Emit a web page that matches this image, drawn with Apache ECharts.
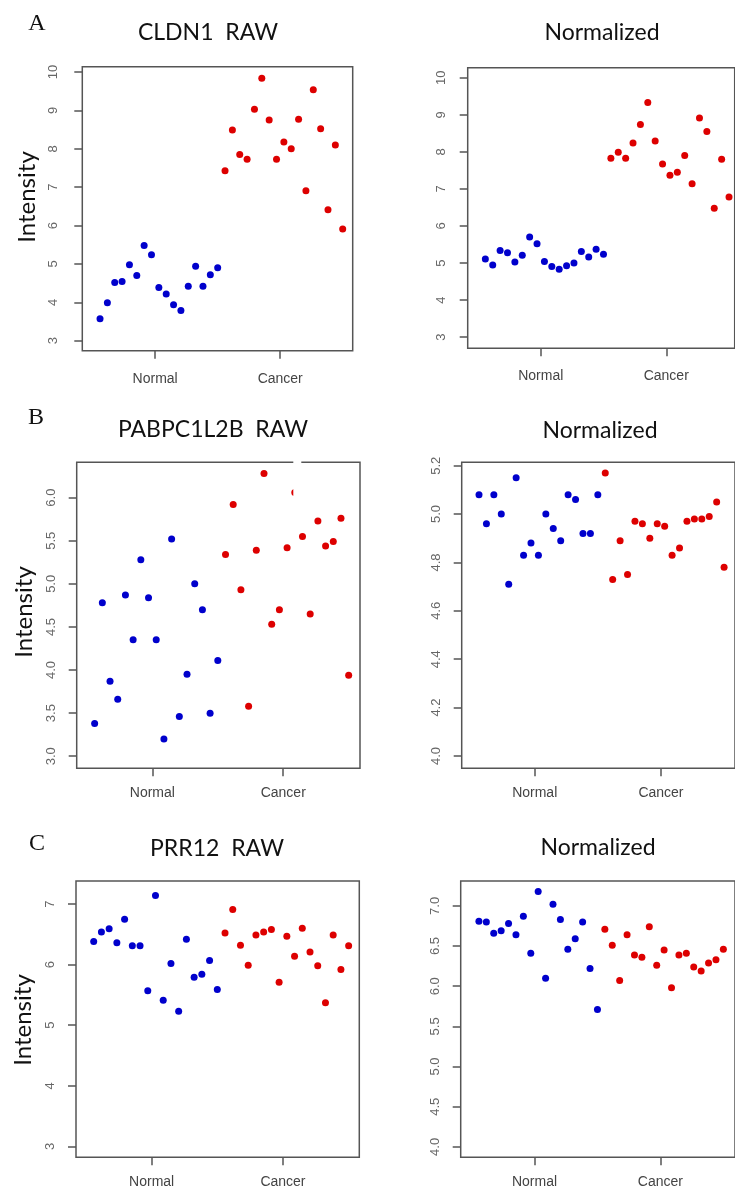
<!DOCTYPE html>
<html>
<head>
<meta charset="utf-8">
<script src="https://cdn.jsdelivr.net/npm/echarts@6/dist/echarts.min.js"></script>
<style>
html,body{margin:0;padding:0;background:#fff;}
#chart{width:735px;height:1192px;}
</style>
</head>
<body>
<div id="chart"></div>
<script>
// ---------- DATA ----------
const groupLabels = ['Normal', 'Cancer'];
const panelLetters = ['A', 'B', 'C'];
const panelTitles = ['CLDN1  RAW', 'Normalized', 'PABPC1L2B  RAW', 'Normalized', 'PRR12  RAW', 'Normalized'];
const yAxisName = 'Intensity';

const yTicksCldn1Raw = [3, 4, 5, 6, 7, 8, 9, 10];
const yTicksCldn1Norm = [3, 4, 5, 6, 7, 8, 9, 10];
const yTicksPabRaw = [3.0, 3.5, 4.0, 4.5, 5.0, 5.5, 6.0];
const yTicksPabNorm = [4.0, 4.2, 4.4, 4.6, 4.8, 5.0, 5.2];
const yTicksPrrRaw = [3, 4, 5, 6, 7];
const yTicksPrrNorm = [4.0, 4.5, 5.0, 5.5, 6.0, 6.5, 7.0];

const cldn1RawNormal = [3.57, 3.99, 4.52, 4.54, 4.98, 4.70, 5.48, 5.24, 4.39, 4.22, 3.94, 3.79, 4.42, 4.94, 4.42, 4.72, 4.90];
const cldn1RawCancer = [7.43, 8.49, 7.85, 7.73, 9.03, 9.84, 8.75, 7.73, 8.18, 8.00, 8.77, 6.91, 9.54, 8.52, 6.41, 8.10, 5.91];
const cldn1NormNormal = [5.11, 4.95, 5.34, 5.28, 5.03, 5.21, 5.70, 5.52, 5.04, 4.91, 4.83, 4.93, 5.00, 5.31, 5.16, 5.37, 5.24];
const cldn1NormCancer = [7.83, 7.99, 7.83, 8.24, 8.74, 9.33, 8.29, 7.67, 7.37, 7.45, 7.90, 7.14, 8.91, 8.55, 6.48, 7.80, 6.78];

const pabRawNormal = [3.38, 4.78, 3.87, 3.66, 4.87, 4.35, 5.28, 4.84, 4.35, 3.20, 5.52, 3.46, 3.95, 5.00, 4.70, 3.50, 4.11];
const pabRawCancer = [5.34, 5.92, 4.93, 3.58, 5.39, 6.28, 4.53, 4.70, 5.42, 6.06, 5.55, 4.65, 5.73, 5.44, 5.49, 5.76, 3.94];
const pabNormNormal = [5.08, 4.96, 5.08, 5.00, 4.71, 5.15, 4.83, 4.88, 4.83, 5.00, 4.94, 4.89, 5.08, 5.06, 4.92, 4.92, 5.08];
const pabNormCancer = [5.17, 4.73, 4.89, 4.75, 4.97, 4.96, 4.90, 4.96, 4.95, 4.83, 4.86, 4.97, 4.98, 4.98, 4.99, 5.05, 4.78];

const prrRawNormal = [6.38, 6.54, 6.59, 6.36, 6.75, 6.31, 6.31, 5.57, 7.14, 5.41, 6.02, 5.23, 6.42, 5.79, 5.84, 6.07, 5.59];
const prrRawCancer = [6.52, 6.91, 6.32, 5.99, 6.49, 6.54, 6.58, 5.71, 6.47, 6.14, 6.60, 6.21, 5.98, 5.37, 6.49, 5.92, 6.31];
const prrNormNormal = [6.81, 6.80, 6.66, 6.69, 6.78, 6.64, 6.87, 6.41, 7.18, 6.10, 7.02, 6.83, 6.46, 6.59, 6.80, 6.22, 5.71];
const prrNormCancer = [6.71, 6.51, 6.07, 6.64, 6.39, 6.36, 6.74, 6.26, 6.45, 5.98, 6.39, 6.41, 6.24, 6.19, 6.29, 6.33, 6.46];

// ---------- LAYOUT ----------
const panels = [
  {normal: cldn1RawNormal, cancer: cldn1RawCancer, ticks: yTicksCldn1Raw, dec: 0,
   grid: {left: 82.3, top: 66.7, width: 270.4, height: 284}, x: [-1.41, 35.36], y: [2.74, 10.14], lm: 22,
   title: [208, 33]},
  {normal: cldn1NormNormal, cancer: cldn1NormCancer, ticks: yTicksCldn1Norm, dec: 0,
   grid: {left: 467.7, top: 67.7, width: 267, height: 280.6}, x: [-1.39, 34.77], y: [2.70, 10.27], lm: 20,
   title: [602, 33]},
  {normal: pabRawNormal, cancer: pabRawCancer, ticks: yTicksPabRaw, dec: 1,
   grid: {left: 76.7, top: 462.3, width: 283.3, height: 306}, x: [-1.33, 35.47], y: [2.86, 6.41], lm: 19,
   title: [213, 430]},
  {normal: pabNormNormal, cancer: pabNormCancer, ticks: yTicksPabNorm, dec: 1,
   grid: {left: 461.7, top: 462.3, width: 283.3, height: 306}, x: [-1.33, 35.47], y: [3.949, 5.214], lm: 19,
   title: [600, 431]},
  {normal: prrRawNormal, cancer: prrRawCancer, ticks: yTicksPrrRaw, dec: 0,
   grid: {left: 76, top: 881, width: 283.3, height: 276.3}, x: [-1.29, 35.38], y: [2.82, 7.38], lm: 19,
   title: [217, 849]},
  {normal: prrNormNormal, cancer: prrNormCancer, ticks: yTicksPrrNorm, dec: 1,
   grid: {left: 460.7, top: 881, width: 285, height: 276.3}, x: [-1.46, 35.57], y: [3.87, 7.31], lm: 19,
   title: [598, 848]}
];
const groupTickPos = [8.5, 25.5];
const letterPos = [[37, 24], [36, 418], [37, 844]];
const intensityPos = [[27, 197], [24, 612], [23, 1020]];

const BLUE = '#0000CC', RED = '#DD0000', AXIS = '#555';

const grids = [], xAxes = [], yAxes = [], series = [], graphics = [];
panels.forEach((p, i) => {
  grids.push(Object.assign({show: true, borderColor: AXIS, borderWidth: 1.5, backgroundColor: 'transparent'}, p.grid));
  xAxes.push({
    type: 'value', gridIndex: i, min: p.x[0], max: p.x[1],
    axisLine: {show: false, onZero: false}, splitLine: {show: false},
    axisTick: {show: true, inside: false, customValues: groupTickPos, length: 8, lineStyle: {color: AXIS, width: 1.5}},
    axisLabel: {customValues: groupTickPos, margin: i < 2 ? 21 : 18, color: '#444', fontSize: 14,
      fontFamily: 'Liberation Sans, Arial, sans-serif',
      formatter: v => (v < 17 ? groupLabels[0] : groupLabels[1])}
  });
  yAxes.push({
    type: 'value', gridIndex: i, min: p.y[0], max: p.y[1],
    axisLine: {show: false, onZero: false}, splitLine: {show: false},
    axisTick: {show: true, inside: false, customValues: p.ticks, length: 8, lineStyle: {color: AXIS, width: 1.5}},
    axisLabel: {customValues: p.ticks, rotate: 90, margin: p.lm, color: '#666', fontSize: 13,
      fontFamily: 'Liberation Sans, Arial, sans-serif',
      formatter: v => Number(v).toFixed(p.dec)}
  });
  series.push({
    type: 'scatter', xAxisIndex: i, yAxisIndex: i, symbolSize: 7, silent: true,
    itemStyle: {color: BLUE, opacity: 1},
    data: p.normal.map((v, k) => [k + 1, v])
  });
  series.push({
    type: 'scatter', xAxisIndex: i, yAxisIndex: i, symbolSize: 7, silent: true,
    itemStyle: {color: RED, opacity: 1},
    data: p.cancer.map((v, k) => [k + 1 + p.normal.length, v])
  });
  graphics.push({
    type: 'text', x: p.title[0], y: p.title[1], z: 10,
    style: {text: panelTitles[i], fontSize: 23, fontFamily: 'Lato, "Open Sans", sans-serif',
      fill: '#111', textAlign: 'center', textVerticalAlign: 'middle'}
  });
});
panelLetters.forEach((l, k) => {
  graphics.push({
    type: 'text', x: letterPos[k][0], y: letterPos[k][1], z: 10,
    style: {text: l, fontSize: 24, fontFamily: '"Liberation Serif", "Times New Roman", serif',
      fill: '#111', textAlign: 'center', textVerticalAlign: 'middle'}
  });
  graphics.push({
    type: 'text', x: intensityPos[k][0], y: intensityPos[k][1], rotation: Math.PI / 2, z: 10,
    style: {text: yAxisName, fontSize: 24, fontFamily: 'Lato, "Open Sans", sans-serif',
      fill: '#111', textAlign: 'center', textVerticalAlign: 'middle'}
  });
});
// small white gap in the top border of panel B (RAW), as in the original image
graphics.push({type: 'rect', x: 293.3, y: 455, z: 20, shape: {width: 8, height: 44}, style: {fill: '#fff'}});

const chart = echarts.init(document.getElementById('chart'), null, {renderer: 'canvas'});
chart.setOption({
  animation: false,
  backgroundColor: '#fff',
  grid: grids, xAxis: xAxes, yAxis: yAxes, series: series, graphic: graphics
});
</script>
</body>
</html>
